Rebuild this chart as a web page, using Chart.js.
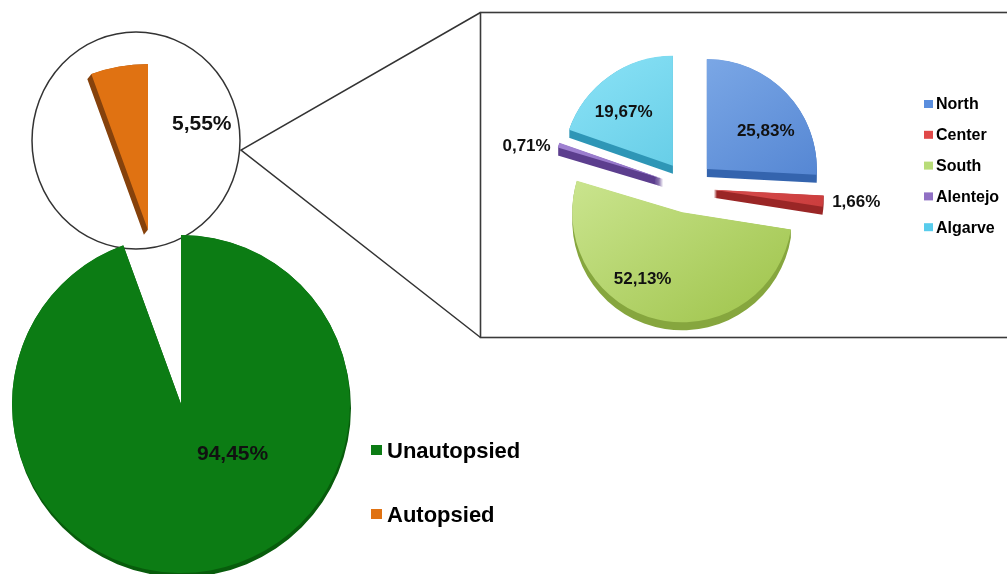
<!DOCTYPE html>
<html>
<head>
<meta charset="utf-8">
<script src="https://cdn.jsdelivr.net/npm/chart.js@4.4.1/dist/chart.umd.min.js"></script>
<style>
  html, body { margin: 0; padding: 0; background: #fff; overflow: hidden; }
  #stage { position: relative; width: 1007px; height: 574px; }
  #stage canvas { position: absolute; left: 0; top: 0; }
</style>
</head>
<body>
<div id="stage">
  <canvas id="mainPie" width="1007" height="574"></canvas>
  <canvas id="zoomPie" width="1007" height="574"></canvas>
  <canvas id="regionPie" width="1007" height="574"></canvas>
</div>
<script>
// Data
const autopsyLabels = ['Unautopsied', 'Autopsied'];
const autopsyShare = [94.45, 5.55];

const regionLabels = ['North', 'Center', 'South', 'Alentejo', 'Algarve'];
const regionShare = [25.83, 1.66, 52.13, 0.71, 19.67];

// Colours
const autopsyColors = ['#0c7c14', '#e07212'];
const autopsyDepth = ['#085c0c', '#86420c'];
const regionShades = [
    ['#8cb6ee', '#4276ca'],
    ['#f07272', '#c43232'],
    ['#dcf2aa', '#a2c650'],
    ['#aa8cda', '#7454ae'],
    ['#8ae2f6', '#3eb6d6']
];
const regionDepth = ['#3464ae', '#9a2626', '#86a63e', '#5c3e8e', '#2e96b6'];
const regionKey = ['#5a8ede', '#e04848', '#b8dc78', '#9070c4', '#58ccec'];

const W = 1007, H = 574;
const FONT = "'Liberation Sans', Arial, sans-serif";

// chart area padding that puts the pie centre at (cx, cy) on a full-size canvas
function centeredAt(cx, cy) {
    return {
        left: Math.max(0, 2 * cx - W), right: Math.max(0, W - 2 * cx),
        top: Math.max(0, 2 * cy - H), bottom: Math.max(0, H - 2 * cy)
    };
}

const pctText = v => v.toFixed(2).replace('.', ',') + '%';
const arcProps = arc => arc.getProps(['x', 'y', 'startAngle', 'endAngle', 'outerRadius'], true);

// --- PLUGINS ---

// pull slices out along their mid angle, radius unchanged
const explodePlugin = {
    id: 'explode',
    afterDatasetUpdate(chart, args, opts) {
        if (!opts.distance) return;
        chart.getDatasetMeta(args.index).data.forEach(arc => {
            const mid = (arc.startAngle + arc.endAngle) / 2;
            arc.x += Math.cos(mid) * opts.distance;
            arc.y += Math.sin(mid) * opts.distance;
        });
    }
};

// fake 3D side: extrude each slice a few px in a darker shade
const depthPlugin = {
    id: 'depth',
    beforeDatasetsDraw(chart, args, opts) {
        const ctx = chart.ctx;
        const steps = Math.ceil(Math.hypot(opts.dx, opts.dy) * 3);
        chart.getDatasetMeta(0).data.forEach((arc, i) => {
            const col = opts.colors[i];
            if (!col) return;
            const { x, y, startAngle, endAngle, outerRadius } = arcProps(arc);
            ctx.save();
            ctx.fillStyle = col;
            ctx.beginPath();
            for (let t = 1; t <= steps; t++) {
                const k = t / steps;
                const ox = x + opts.dx * k, oy = y + opts.dy * k;
                ctx.moveTo(ox, oy);
                ctx.arc(ox, oy, outerRadius, startAngle, endAngle);
                ctx.closePath();
            }
            ctx.fill('nonzero');
            ctx.restore();
        });
    }
};

const sliceLabelPlugin = {
    id: 'sliceLabels',
    afterDatasetsDraw(chart, args, opts) {
        const ctx = chart.ctx;
        const values = chart.data.datasets[0].data;
        ctx.save();
        ctx.font = opts.font;
        ctx.fillStyle = opts.color;
        ctx.textAlign = 'center';
        ctx.textBaseline = 'middle';
        chart.getDatasetMeta(0).data.forEach((arc, i) => {
            if (!opts.show[i]) return;
            const { x, y, startAngle, endAngle, outerRadius } = arcProps(arc);
            const mid = (startAngle + endAngle) / 2;
            const r = outerRadius * opts.fraction[i];
            const [nx, ny] = opts.nudge[i];
            ctx.fillText(pctText(values[i]), x + Math.cos(mid) * r + nx, y + Math.sin(mid) * r + ny);
        });
        ctx.restore();
    }
};

const boxLegendPlugin = {
    id: 'boxLegend',
    afterDraw(chart, args, opts) {
        if (!opts.colors) return;
        const ctx = chart.ctx;
        ctx.save();
        ctx.font = opts.font;
        ctx.textBaseline = 'middle';
        chart.data.labels.forEach((label, i) => {
            const y = opts.y + i * opts.gap;
            ctx.fillStyle = opts.colors[i];
            ctx.fillRect(opts.x, y + opts.boxShift, opts.box[0], opts.box[1]);
            ctx.fillStyle = '#000';
            ctx.fillText(label, opts.x + opts.box[0] + opts.textGap, y);
        });
        ctx.restore();
    }
};

// magnifier lens, its connector lines and the frame round the regional pie
const calloutPlugin = {
    id: 'callout',
    beforeDraw(chart, args, opts) {
        const ctx = chart.ctx;
        ctx.save();
        ctx.strokeStyle = '#333';
        ctx.lineWidth = 1.5;
        ctx.beginPath();
        ctx.ellipse(opts.lens.x, opts.lens.y, opts.lens.rx, opts.lens.ry, 0, 0, Math.PI * 2);
        ctx.fillStyle = '#fff';
        ctx.fill();
        ctx.stroke();

        const f = opts.frame;
        ctx.beginPath();
        ctx.moveTo(f.left, f.top);
        ctx.lineTo(opts.lens.x + opts.lens.rx + 1, opts.lens.y + 9.5);
        ctx.lineTo(f.left, f.bottom);
        ctx.stroke();

        ctx.lineWidth = 1.6;
        ctx.strokeStyle = '#3a3a3a';
        ctx.strokeRect(f.left, f.top, W + 20 - f.left, f.bottom - f.top);
        ctx.restore();
    }
};

const basePlugins = [explodePlugin, depthPlugin, sliceLabelPlugin, boxLegendPlugin];

function pieOptions(cx, cy, radius, extra) {
    return {
        responsive: false,
        animation: false,
        events: [],
        radius: radius,
        layout: { padding: centeredAt(cx, cy) },
        plugins: Object.assign({
            legend: { display: false },
            tooltip: { enabled: false },
            explode: { distance: 0 },
            boxLegend: {}
        }, extra)
    };
}

// --- MAIN PIE (Unautopsied, with the autopsied slice cut out) ---
new Chart(document.getElementById('mainPie'), {
    type: 'pie',
    data: {
        labels: autopsyLabels,
        datasets: [{
            data: autopsyShare,
            backgroundColor: [autopsyColors[0], 'rgba(0,0,0,0)'],
            borderWidth: 0,
            clip: false
        }]
    },
    options: pieOptions(181, 404, 169, {
        depth: { colors: [autopsyDepth[0], null], dx: 1, dy: 4 },
        sliceLabels: {
            font: 'bold 21px ' + FONT, color: '#111',
            show: [true, false], fraction: [0.6, 0.6], nudge: [[34, -50], [0, 0]]
        },
        boxLegend: {
            colors: autopsyColors, font: 'bold 22px ' + FONT,
            x: 371, y: 452, gap: 64, box: [11, 10], boxShift: -7, textGap: 5
        },
        callout: {
            lens: { x: 136, y: 140.5, rx: 104, ry: 108.5 },
            frame: { left: 480.5, top: 12.5, bottom: 337.5 }
        }
    }),
    plugins: [calloutPlugin, ...basePlugins]
});

// --- MAGNIFIED AUTOPSIED SLICE ---
new Chart(document.getElementById('zoomPie'), {
    type: 'pie',
    data: {
        labels: autopsyLabels,
        datasets: [{
            data: autopsyShare,
            backgroundColor: ['rgba(0,0,0,0)', autopsyColors[1]],
            borderWidth: 0,
            clip: false
        }]
    },
    options: pieOptions(148, 230, 166, {
        depth: { colors: [null, autopsyDepth[1]], dx: -4, dy: 5 },
        sliceLabels: {
            font: 'bold 21px ' + FONT, color: '#111',
            show: [false, true], fraction: [0.6, 0.6], nudge: [[0, 0], [71, -8]]
        }
    }),
    plugins: basePlugins
});

// --- AUTOPSIES BY REGION ---
new Chart(document.getElementById('regionPie'), {
    type: 'pie',
    data: {
        labels: regionLabels,
        datasets: [{
            data: regionShare,
            backgroundColor: ctx => {
                const pair = regionShades[ctx.dataIndex];
                const area = ctx.chart.chartArea;
                if (!area) return pair[1];
                const cx = (area.left + area.right) / 2, cy = (area.top + area.bottom) / 2;
                const g = ctx.chart.ctx.createLinearGradient(cx - 110, cy - 130, cx + 70, cy + 130);
                g.addColorStop(0, pair[0]);
                g.addColorStop(1, pair[1]);
                return g;
            },
            borderWidth: 0,
            clip: false
        }]
    },
    options: pieOptions(688, 187, 110, {
        explode: { distance: 26 },
        depth: { colors: regionDepth, dx: 0, dy: 8 },
        sliceLabels: {
            font: 'bold 17px ' + FONT, color: '#111',
            show: [true, true, true, true, true],
            fraction: [0.6, 1.0, 0.6, 1.0, 0.6],
            nudge: [[11, 8], [33, 1], [-25, 3], [-32, 1], [-11, 0]]
        },
        boxLegend: {
            colors: regionKey, font: 'bold 16px ' + FONT,
            x: 924, y: 105, gap: 30.8, box: [9, 8], boxShift: -5, textGap: 3
        }
    }),
    plugins: basePlugins
});
</script>
</body>
</html>
